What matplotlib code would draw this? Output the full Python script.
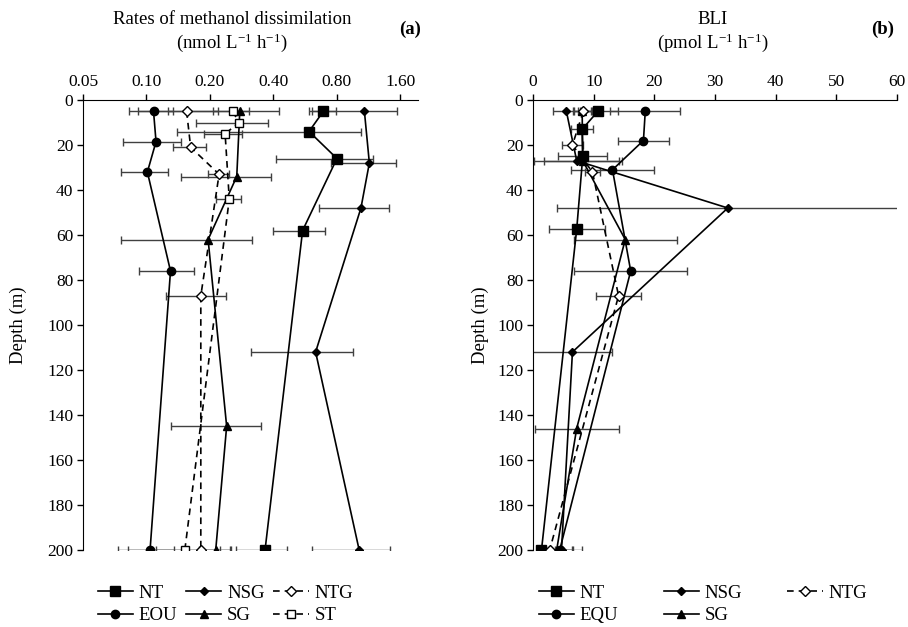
import matplotlib
matplotlib.use("Agg")
import matplotlib.pyplot as plt
from matplotlib.ticker import FixedLocator, NullLocator

plt.rcParams['font.family'] = ['Liberation Serif', 'DejaVu Serif']
plt.rcParams['mathtext.fontset'] = 'custom'
plt.rcParams['mathtext.rm'] = 'Liberation Serif'
plt.rcParams['mathtext.it'] = 'Liberation Serif:italic'

# ---- panel (a): methanol dissimilation rates (nmol L-1 h-1) ----
a_nt_depth = [5, 14, 26, 58, 200]
a_nt_val = [0.69, 0.59, 0.80, 0.55, 0.365]
a_nt_err = [0.10, 0.45, 0.39, 0.15, 0.10]

a_nsg_depth = [5, 28, 48, 112, 200]
a_nsg_val = [1.08, 1.14, 1.04, 0.634, 1.02]
a_nsg_err = [0.47, 0.39, 0.38, 0.32, 0.41]

a_ntg_depth = [5, 21, 33, 87, 200]
a_ntg_val = [0.155, 0.162, 0.221, 0.181, 0.181]
a_ntg_err = [0.064, 0.029, 0.025, 0.057, 0.07]

a_eou_depth = [5, 18.5, 32, 76, 200]
a_eou_val = [0.108, 0.111, 0.101, 0.130, 0.104]
a_eou_err = [0.025, 0.034, 0.025, 0.038, 0.031]

a_sg_depth = [5, 34, 62, 145, 200]
a_sg_val = [0.277, 0.268, 0.196, 0.24, 0.213]
a_sg_err = [0.15, 0.122, 0.12, 0.11, 0.035]

a_st_depth = [5, 10, 15, 44, 200]
a_st_val = [0.256, 0.275, 0.236, 0.247, 0.152]
a_st_err = [0.05, 0.103, 0.049, 0.033, 0.07]

a_ticks = [0.05, 0.10, 0.20, 0.40, 0.80, 1.60]
a_ticklabels = ["0.05", "0.10", "0.20", "0.40", "0.80", "1.60"]

# ---- panel (b): BLI (pmol L-1 h-1) ----
b_nt_depth = [5, 13, 25, 57.5, 200]
b_nt_val = [10.7, 8.1, 8.2, 7.2, 1.4]
b_nt_err = [3.3, 1.8, 4.0, 4.6, 0.8]

b_nsg_depth = [5, 27, 48, 112, 200]
b_nsg_val = [5.5, 7.2, 32.1, 6.5, 4.7]
b_nsg_err = [2.2, 7.0, 28.2, 6.6, 1.9]

b_ntg_depth = [5, 20, 32, 87, 200]
b_ntg_val = [8.3, 6.5, 9.8, 14.1, 2.75]
b_ntg_err = [1.5, 1.75, 1.3, 3.75, 0.8]

b_equ_depth = [5, 18, 31, 76, 200]
b_equ_val = [18.5, 18.2, 13.1, 16.1, 4.4]
b_equ_err = [5.8, 4.2, 6.8, 9.3, 3.6]

b_sg_depth = [5, 27, 62, 146, 200]
b_sg_val = [8.1, 8.2, 15.2, 7.2, 3.9]
b_sg_err = [1.5, 6.4, 8.5, 6.9, 2.5]

depth_ticks = list(range(0, 201, 20))

FS = 12.5      # tick labels
FS_T = 13.5    # titles, axis label, legend
ERR_COLOR = '#404040'


def draw_series(ax, depth, val, err, marker, ms, face, ls, label):
    ax.errorbar(val, depth, xerr=err, fmt='none', ecolor=ERR_COLOR,
                elinewidth=1.0, capsize=2.8, capthick=1.0, zorder=2)
    ax.plot(val, depth, color='black', linestyle=ls, linewidth=1.2,
            marker=marker, markersize=ms, markerfacecolor=face,
            markeredgecolor='black', markeredgewidth=1.0, label=label,
            zorder=3)


def style_axes(ax):
    ax.set_ylim(200, 0)
    ax.yaxis.set_major_locator(FixedLocator(depth_ticks))
    ax.xaxis.tick_top()
    ax.spines['right'].set_visible(False)
    ax.spines['bottom'].set_visible(False)
    ax.tick_params(axis='both', direction='out', length=4, width=1,
                   labelsize=FS, pad=3)
    ax.set_ylabel("Depth (m)", fontsize=FS_T)


fig = plt.figure(figsize=(9.08, 6.27), dpi=100)
ax1 = fig.add_axes([0.0914, 0.1228, 0.369, 0.7177])
ax2 = fig.add_axes([0.587, 0.1228, 0.401, 0.7177])

DASH = (0, (4, 3))

# panel (a)
draw_series(ax1, a_nt_depth, a_nt_val, a_nt_err, 's', 6.5, 'black', '-', 'NT')
draw_series(ax1, a_eou_depth, a_eou_val, a_eou_err, 'o', 6, 'black', '-', 'EOU')
draw_series(ax1, a_nsg_depth, a_nsg_val, a_nsg_err, 'D', 4.3, 'black', '-', 'NSG')
draw_series(ax1, a_sg_depth, a_sg_val, a_sg_err, '^', 6, 'black', '-', 'SG')
draw_series(ax1, a_ntg_depth, a_ntg_val, a_ntg_err, 'D', 4.8, 'white', DASH, 'NTG')
draw_series(ax1, a_st_depth, a_st_val, a_st_err, 's', 6, 'white', DASH, 'ST')

ax1.set_xscale('log', base=2)
ax1.set_xlim(0.05, 1.94)
ax1.xaxis.set_major_locator(FixedLocator(a_ticks))
ax1.xaxis.set_minor_locator(NullLocator())
ax1.set_xticklabels(a_ticklabels)
style_axes(ax1)
ax1.yaxis.set_label_coords(-0.167, 0.5)

ax1.legend(loc='upper left', bbox_to_anchor=(0.021, -0.06), ncol=3,
           frameon=False, fontsize=FS_T, handlelength=1.9, handletextpad=0.3,
           columnspacing=0.45, labelspacing=0.3, borderaxespad=0)

# panel (b)
draw_series(ax2, b_nt_depth, b_nt_val, b_nt_err, 's', 6.5, 'black', '-', 'NT')
draw_series(ax2, b_equ_depth, b_equ_val, b_equ_err, 'o', 6, 'black', '-', 'EQU')
draw_series(ax2, b_nsg_depth, b_nsg_val, b_nsg_err, 'D', 4.3, 'black', '-', 'NSG')
draw_series(ax2, b_sg_depth, b_sg_val, b_sg_err, '^', 6, 'black', '-', 'SG')
draw_series(ax2, b_ntg_depth, b_ntg_val, b_ntg_err, 'D', 4.8, 'white', DASH, 'NTG')

ax2.set_xlim(0, 60)
ax2.xaxis.set_major_locator(FixedLocator(range(0, 61, 10)))
style_axes(ax2)
ax2.yaxis.set_label_coords(-0.121, 0.5)

ax2.legend(loc='upper left', bbox_to_anchor=(-0.005, -0.06), ncol=3,
           frameon=False, fontsize=FS_T, handlelength=1.9, handletextpad=0.3,
           columnspacing=2.4, labelspacing=0.3, borderaxespad=0)

# titles
fig.text(232 / 908, 1 - 20 / 627, "Rates of methanol dissimilation",
         ha='center', va='center', fontsize=FS_T)
fig.text(232 / 908, 1 - 43 / 627, "(nmol L$^{\\mathdefault{-1}}$ h$^{\\mathdefault{-1}}$)",
         ha='center', va='center', fontsize=FS_T)
fig.text(410 / 908, 1 - 29 / 627, "(a)", ha='center', va='center',
         fontsize=FS_T, fontweight='bold')
fig.text(713 / 908, 1 - 20 / 627, "BLI", ha='center', va='center', fontsize=FS_T)
fig.text(713 / 908, 1 - 43 / 627, "(pmol L$^{\\mathdefault{-1}}$ h$^{\\mathdefault{-1}}$)",
         ha='center', va='center', fontsize=FS_T)
fig.text(883 / 908, 1 - 29 / 627, "(b)", ha='center', va='center',
         fontsize=FS_T, fontweight='bold')

fig.savefig("out.png", dpi=100)
